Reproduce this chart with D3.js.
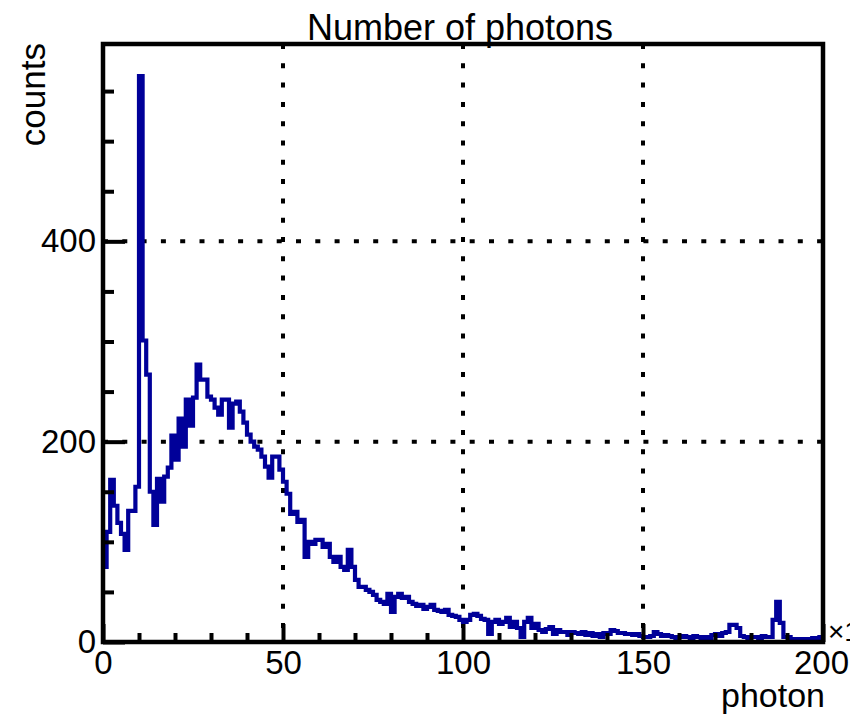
<!DOCTYPE html>
<html><head><meta charset="utf-8">
<script src="https://cdn.jsdelivr.net/npm/d3@7"></script>
<style>body{margin:0;background:#fff} text{font-family:"Liberation Sans",Arial,Helvetica,sans-serif}</style>
</head><body><svg id="c" width="850" height="715"></svg>
<script>
const title = "Number of photons";
const xLabel = "photon";
const yLabel = "counts";
const xExponent = "\u00d710";
const xRange = [0, 200];
const yMax = 597;
const counts = [
 75,110,162,136,119,108,92,131,131,155,
 565,301,267,150,117,163,140,165,174,206,
 182,223,195,242,216,244,277,262,262,245,
 242,234,227,242,242,214,238,240,230,219,
 207,200,195,192,185,175,164,185,185,172,
 160,148,128,130,120,122,85,100,98,102,
 102,95,98,85,80,85,75,72,92,75,
 62,55,55,52,50,47,42,40,38,48,
 30,45,48,44,45,40,38,36,37,33,
 35,37,32,31,30,32,27,26,25,22,
 20,22,27,28,26,23,22,8,20,22,
 18,20,24,15,20,14,5,20,24,14,
 18,12,10,13,15,8,12,10,10,7,
 10,9,8,10,7,9,6,8,5,9,
 8,12,11,9,9,8,8,7,8,6,
 5,5,6,10,8,6,7,6,5,4,
 5,6,5,4,6,5,4,5,4,7,
 8,6,9,10,17,17,14,6,5,4,
 5,5,4,6,5,5,22,40,19,5,
 5,3,2,3,2,3,3,4,4,5
];
const xTickLabels = [0, 50, 100, 150, 200];
const xMinorTicks = [10,20,30,40,60,70,80,90,110,120,130,140,160,170,180,190];
const yTickLabels = [0, 200, 400];
const yMinorTicks = [50,100,150,250,300,350,450,500,550];
const xGrid = [50, 100, 150];
const yGrid = [200, 400];

const svg = d3.select("#c");
const L = 103, R = 823, T = 44, B = 642;
const x = d3.scaleLinear().domain(xRange).range([L, R]);
const y = d3.scaleLinear().domain([0, yMax]).range([B, T]);
const FS = 33;

// grid
const grid = svg.append("g").attr("stroke", "#000").attr("stroke-width", 4).attr("stroke-dasharray", "5,14.3");
grid.selectAll("line.v").data(xGrid).join("line").attr("class","v")
  .attr("x1", d => x(d)).attr("x2", d => x(d)).attr("y1", T).attr("y2", B);
grid.selectAll("line.h").data(yGrid).join("line").attr("class","h")
  .attr("x1", L).attr("x2", R).attr("y1", d => y(d)).attr("y2", d => y(d));

// histogram
svg.append("clipPath").attr("id","clip").append("rect").attr("x",L).attr("y",T).attr("width",R-L).attr("height",B-T);
const pts = counts.map((c, i) => [xRange[0] + i * (xRange[1]-xRange[0]) / counts.length, c]);
pts.push([xRange[1], counts[counts.length-1]]);
const line = d3.line().x(d => x(d[0])).y(d => y(d[1])).curve(d3.curveStepAfter);
svg.append("path").attr("d", line(pts)).attr("fill","none").attr("stroke","#000099")
  .attr("stroke-width",4.2).attr("clip-path","url(#clip)");

// axes
function style(g){ g.select(".domain").remove(); g.selectAll("line").attr("stroke","#000").attr("stroke-width",4);
  g.selectAll("text").attr("font-size",FS).attr("fill","#000").attr("font-family","Liberation Sans, Arial, sans-serif"); }
const xg = svg.append("g").attr("transform",`translate(0,${B})`)
  .call(d3.axisBottom(x).tickValues(xTickLabels).tickSize(-18).tickPadding(9).tickFormat(d3.format("d"))).call(style);
xg.selectAll("text").filter(d => d === xRange[1]).attr("dx", -2);
svg.append("g").attr("transform",`translate(0,${B})`)
  .call(d3.axisBottom(x).tickValues(xMinorTicks).tickSize(-9).tickFormat("")).call(style);
svg.append("g").attr("transform",`translate(${L},0)`)
  .call(d3.axisLeft(y).tickValues(yTickLabels).tickSize(-22).tickPadding(7).tickFormat(d3.format("d"))).call(style);
svg.append("g").attr("transform",`translate(${L},0)`)
  .call(d3.axisLeft(y).tickValues(yMinorTicks).tickSize(-11).tickFormat("")).call(style);

// frame
svg.append("rect").attr("x",L).attr("y",T).attr("width",R-L).attr("height",B-T)
  .attr("fill","none").attr("stroke","#000").attr("stroke-width",4.5);

// texts
svg.append("text").attr("x",460).attr("y",40).attr("text-anchor","middle").attr("font-size",36).text(title);
svg.append("text").attr("x",R+2).attr("y",707).attr("text-anchor","end").attr("font-size",34).text(xLabel);
svg.append("text").attr("transform",`translate(45,${T-1}) rotate(-90)`).attr("text-anchor","end").attr("font-size",35).text(yLabel);
svg.append("text").attr("x",828).attr("y",641).attr("font-size",28).text(xExponent);
</script></body></html>
